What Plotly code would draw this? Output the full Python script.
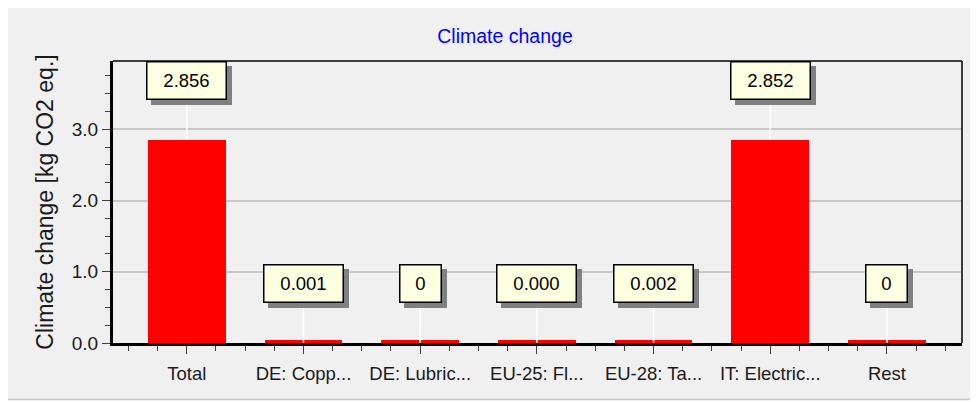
import plotly.graph_objects as go

categories = ["Total", "DE: Copp...", "DE: Lubric...", "EU-25: Fl...", "EU-28: Ta...", "IT: Electric...", "Rest"]
values = [2.856, 0.001, 0.0, 0.0004, 0.002, 2.852, 0.0]
value_labels = ["2.856", "0.001", "0", "0.000", "0.002", "2.852", "0"]
y_tick_values = [0, 1, 2, 3]
y_tick_labels = ["0.0", "1.0", "2.0", "3.0"]

FONT = "Liberation Sans, Arial, sans-serif"

# the page body adds an 8px white margin around the figure
W, H = 970, 394
ML, MR, MT, MB = 105, 16, 53, 59
PW, PH = W - ML - MR, H - MT - MB

MIN_VISIBLE = 0.04  # minimal drawn height so zero bars show as a line
LABEL_OFFSET = 0.835

xs = list(range(len(categories)))
disp = [max(v, MIN_VISIBLE) for v in values]

fig = go.Figure()
fig.add_trace(go.Bar(
    x=xs, y=disp, width=0.666,
    marker=dict(color="#ff0000", line=dict(width=0)),
    hovertext=value_labels, hoverinfo="text",
))


def px_x(px):
    return (px - ML) / PW


def px_y(py):
    return (H - MB - py) / PH


shapes = [
    # white strip below the panel and its grey edge line
    dict(type="rect", xref="paper", yref="paper", x0=px_x(-2), x1=px_x(W + 2), y0=px_y(H + 2), y1=px_y(391),
         fillcolor="white", line=dict(width=0), layer="below"),
    dict(type="line", xref="paper", yref="paper", x0=px_x(-2), x1=px_x(W + 2), y0=px_y(391.5), y1=px_y(391.5),
         line=dict(color="#c8c8c8", width=1.5), layer="below"),
    # top and right thin frame lines
    dict(type="line", xref="paper", yref="paper", x0=0, x1=1, y0=1, y1=1, line=dict(color="black", width=1.5)),
    dict(type="line", xref="paper", yref="paper", x0=1, x1=1, y0=0, y1=1, line=dict(color="black", width=1.5)),
]

annotations = []
for x, v, lab in zip(xs, values, value_labels):
    bw = 38 if len(lab) <= 1 else 76
    ly = v + LABEL_OFFSET
    common = dict(x=x, y=ly, xref="x", yref="y", width=bw, height=34, borderpad=1,
                  align="center", valign="middle")
    # leader line
    annotations.append(dict(
        x=x, y=v, xref="x", yref="y", ax=x, ay=ly, axref="x", ayref="y", showarrow=True,
        arrowhead=0, arrowwidth=1.5, arrowcolor="white", standoff=0,
        width=bw, height=34, borderpad=1, borderwidth=1.5, bordercolor="rgba(0,0,0,0)",
        text=" ", font=dict(family=FONT, size=18.5, color="rgba(0,0,0,0)")))
    # shadow
    annotations.append(dict(common, text=" ", showarrow=False, bgcolor="#808080", bordercolor="#808080",
                            borderwidth=1.5, xshift=5, yshift=-5,
                            font=dict(family=FONT, size=18.5, color="rgba(0,0,0,0)")))
    # box
    annotations.append(dict(common, text=lab, showarrow=False, bgcolor="#ffffe1", bordercolor="black",
                            borderwidth=1.5, font=dict(family=FONT, size=18.5, color="black")))

fig.update_layout(
    width=W, height=H,
    margin=dict(l=ML, r=MR, t=MT, b=MB, autoexpand=False),
    paper_bgcolor="#f0f0f0", plot_bgcolor="rgba(0,0,0,0)",
    showlegend=False,
    title=dict(text="Climate change", x=497 / W, xref="container", xanchor="center",
               y=1 - 28 / H, yref="container", yanchor="middle",
               font=dict(family=FONT, size=19.5, color="#0000ff")),
    shapes=shapes,
    annotations=annotations,
    bargap=0,
)
fig.update_xaxes(
    range=[-0.632, 6.643], tickvals=xs, ticktext=categories, tickangle=0, automargin=False,
    showline=True, linewidth=3, linecolor="black", mirror=False,
    ticks="outside", ticklen=8, tickwidth=1, tickcolor="#404040", ticklabelstandoff=4,
    minor=dict(dtick=0.25, tick0=0, ticks="outside", ticklen=5, tickwidth=1, tickcolor="#404040", showgrid=False),
    showgrid=False, zeroline=False,
    tickfont=dict(family=FONT, size=18.5, color="#1a1a1a"),
)
fig.update_yaxes(
    range=[0, 3.96], tickvals=y_tick_values, ticktext=y_tick_labels, automargin=False,
    showline=True, linewidth=3, linecolor="black", mirror=False,
    ticks="outside", ticklen=8, tickwidth=1, tickcolor="#404040",
    minor=dict(dtick=0.25, tick0=0, ticks="outside", ticklen=5, tickwidth=1, tickcolor="#404040", showgrid=False),
    showgrid=True, gridcolor="#c8c8c8", gridwidth=1.5, zeroline=False,
    tickfont=dict(family=FONT, size=19, color="#1a1a1a"),
    title=dict(text="Climate change [kg CO2 eq.]", font=dict(family=FONT, size=23, color="#1a1a1a"), standoff=12),
)

fig.write_html("out.html")
